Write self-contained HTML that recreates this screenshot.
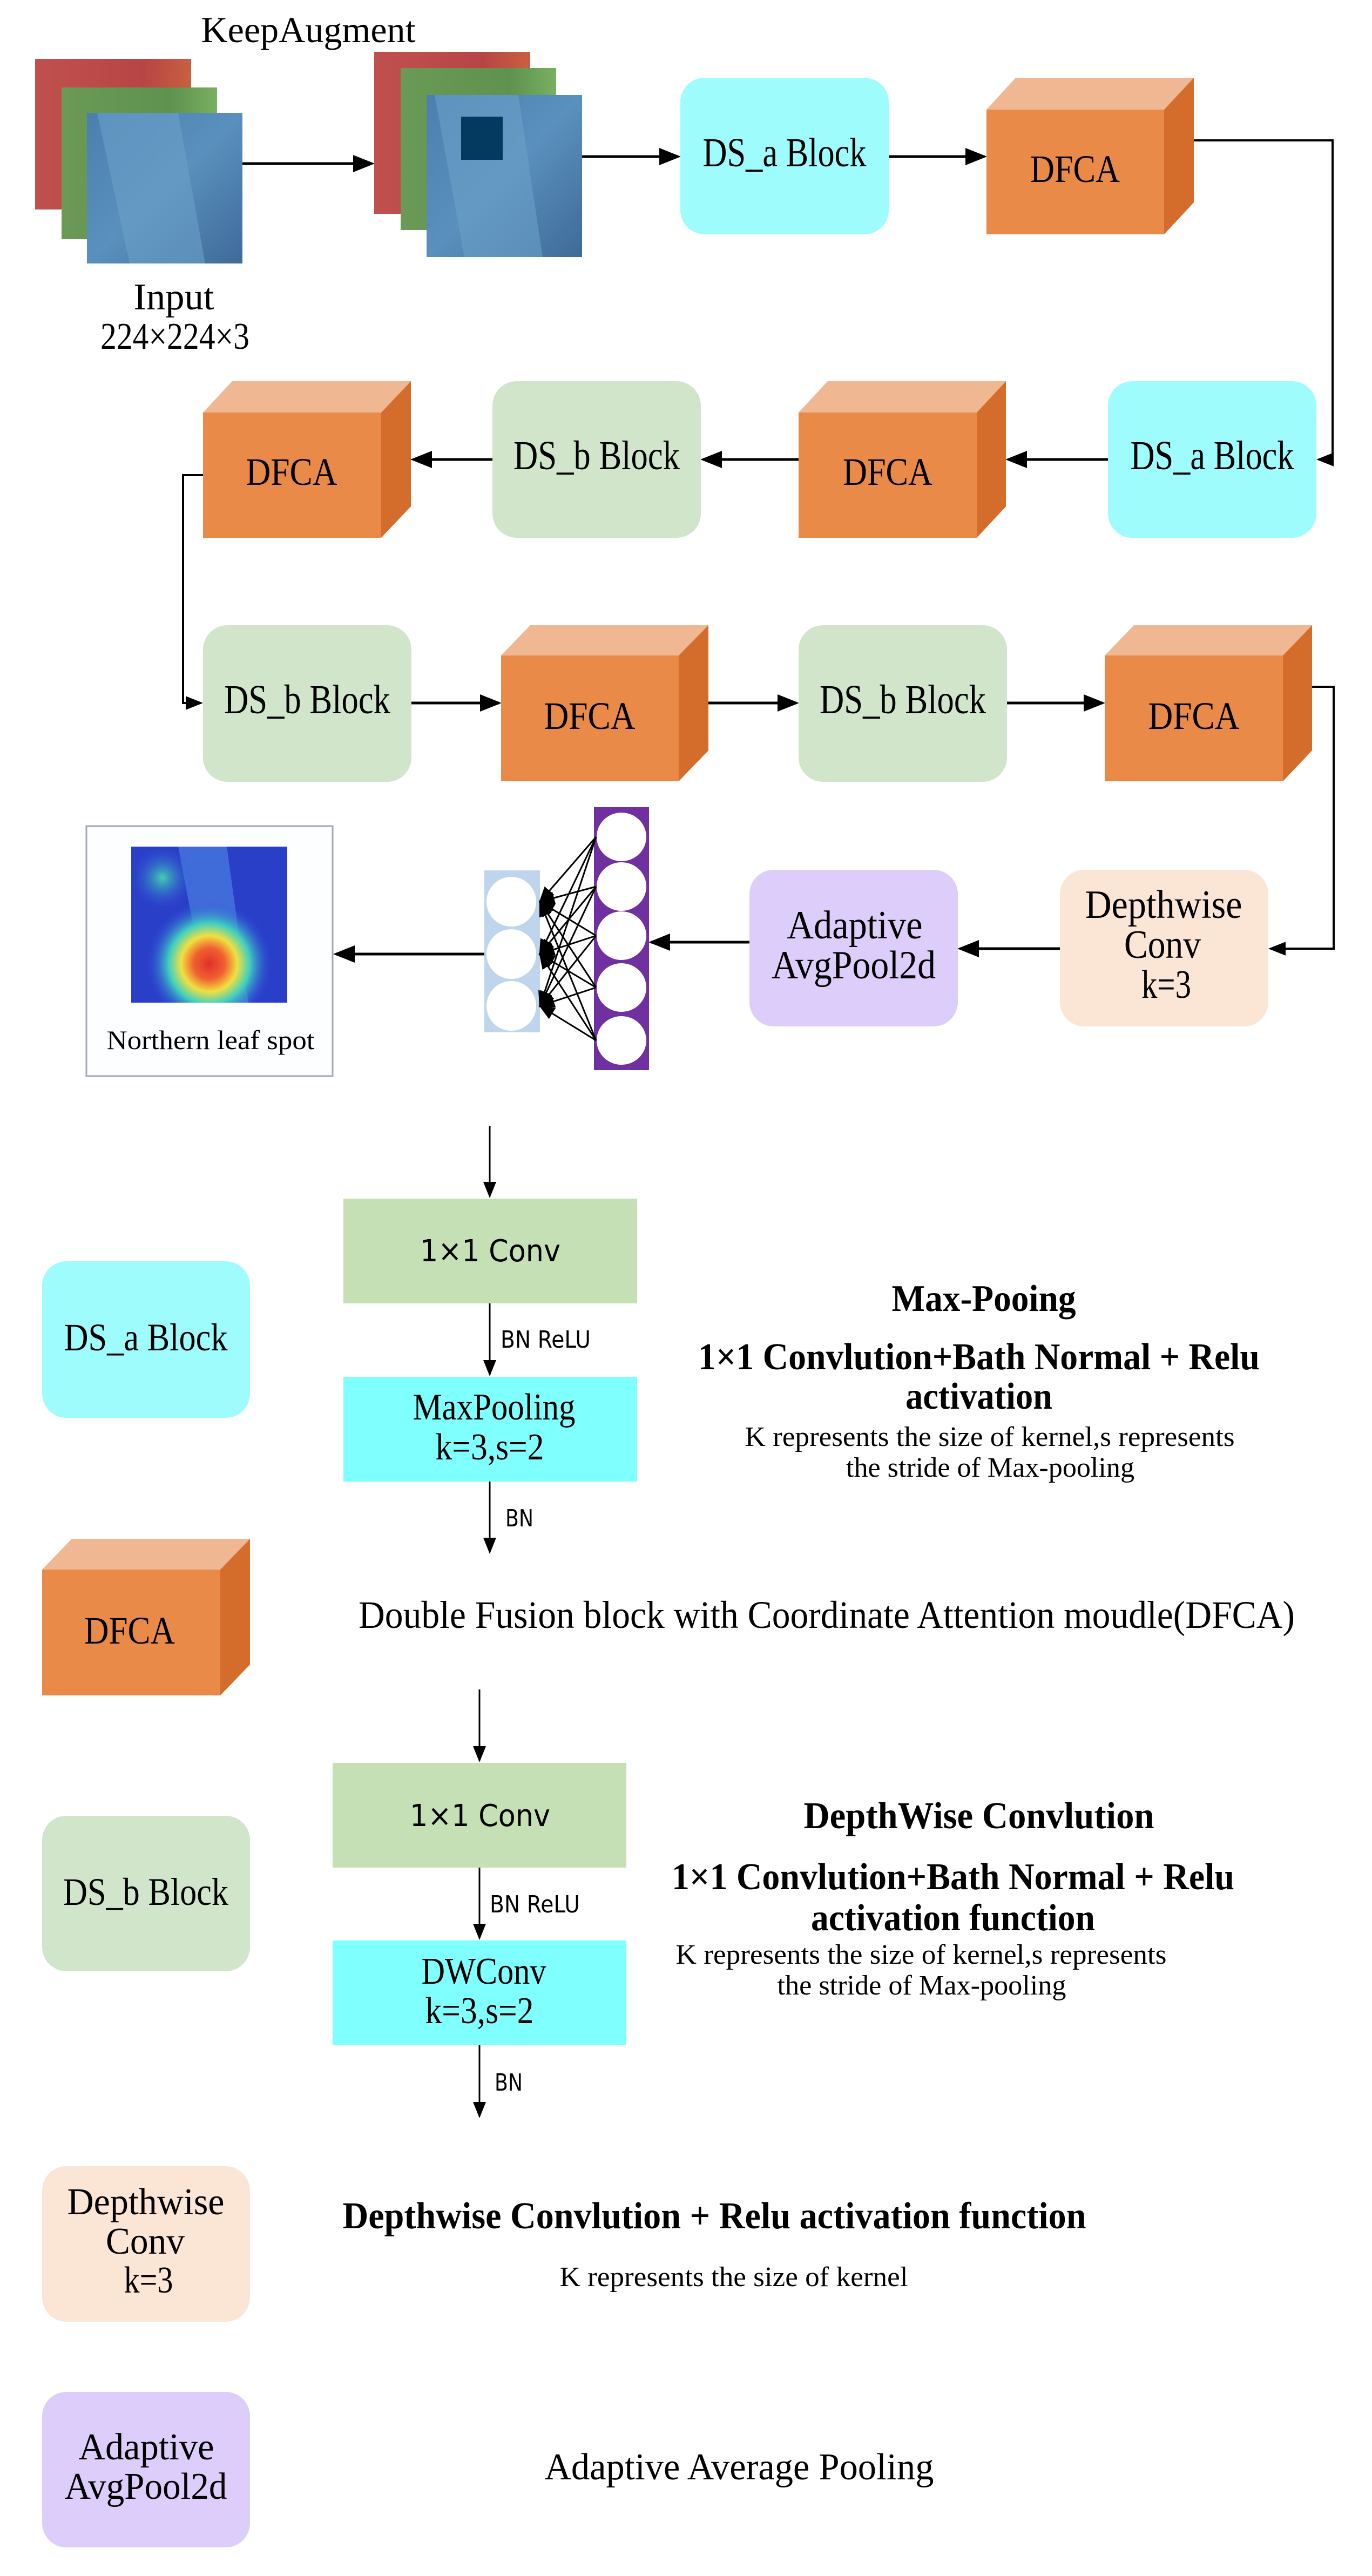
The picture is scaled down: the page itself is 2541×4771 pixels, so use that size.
<!DOCTYPE html>
<html><head><meta charset="utf-8"><style>html,body{margin:0;padding:0;background:#fff}svg{display:block}</style></head>
<body>
<svg width="2541" height="4771" viewBox="0 0 2541 4771" xmlns="http://www.w3.org/2000/svg">
<defs>
<marker id="ah" markerWidth="8" markerHeight="8" refX="7" refY="4" orient="auto" markerUnits="strokeWidth"><path d="M0,0.8 L8,4 L0,7.2 z" fill="#000"/></marker>
<marker id="ah2" markerWidth="10" markerHeight="10" refX="9" refY="5" orient="auto" markerUnits="strokeWidth"><path d="M0,1 L10,5 L0,9 z" fill="#000"/></marker>
<linearGradient id="gR" x1="0" y1="0" x2="1" y2="0"><stop offset="0" stop-color="#c0504d"/><stop offset="0.7" stop-color="#b84545"/><stop offset="1" stop-color="#c8603f"/></linearGradient>
<linearGradient id="gG" x1="0" y1="0" x2="1" y2="0"><stop offset="0" stop-color="#6a9a55"/><stop offset="0.7" stop-color="#5f9150"/><stop offset="1" stop-color="#78b060"/></linearGradient>
<linearGradient id="gB" x1="0" y1="0" x2="1" y2="1"><stop offset="0" stop-color="#4a7fb0"/><stop offset="0.5" stop-color="#5a90bd"/><stop offset="1" stop-color="#3f6a98"/></linearGradient>
<radialGradient id="heat" cx="0.5" cy="0.75" r="0.4"><stop offset="0" stop-color="#e0302a"/><stop offset="0.25" stop-color="#f06030"/><stop offset="0.45" stop-color="#f0e040"/><stop offset="0.65" stop-color="#40d0c0"/><stop offset="1" stop-color="#3050e0" stop-opacity="0"/></radialGradient>
<radialGradient id="heat2" cx="0.2" cy="0.2" r="0.2"><stop offset="0" stop-color="#40d0b0"/><stop offset="1" stop-color="#3050e0" stop-opacity="0"/></radialGradient>
</defs>
<g font-family="Liberation Serif, serif" fill="#000">

<text x="571" y="78" font-size="68" text-anchor="middle" textLength="397" lengthAdjust="spacingAndGlyphs">KeepAugment</text>
<rect x="65" y="109" width="289" height="279" fill="url(#gR)"/>
<rect x="114" y="162" width="288" height="281" fill="url(#gG)"/>
<rect x="161" y="209" width="288" height="279" fill="url(#gB)"/>
<polygon points="180,209 330,209 380,488 240,488" fill="#6aa0c8" opacity="0.6"/>
<text x="322" y="573" font-size="70" text-anchor="middle" textLength="149" lengthAdjust="spacingAndGlyphs">Input</text>
<text x="324" y="646" font-size="70" text-anchor="middle" textLength="276" lengthAdjust="spacingAndGlyphs">224×224×3</text>
<line x1="449" y1="303" x2="689" y2="303" stroke="#000" stroke-width="5" marker-end="url(#ah)"/>
<rect x="693" y="96" width="289" height="300" fill="url(#gR)"/>
<rect x="742" y="126" width="288" height="300" fill="url(#gG)"/>
<rect x="790" y="176" width="288" height="300" fill="url(#gB)"/>
<polygon points="805,176 960,176 1005,476 860,476" fill="#6aa0c8" opacity="0.6"/>
<rect x="854" y="216" width="77" height="80" fill="#043a60"/>
<line x1="1078" y1="290" x2="1256" y2="290" stroke="#000" stroke-width="5" marker-end="url(#ah)"/>

<rect x="1260" y="144" width="386" height="290" rx="45" fill="#9ffcfc"/>
<text x="1453" y="308" font-size="76" text-anchor="middle" textLength="303" lengthAdjust="spacingAndGlyphs">DS_a Block</text>
<line x1="1646" y1="290" x2="1823" y2="290" stroke="#000" stroke-width="5" marker-end="url(#ah)"/>
<polygon points="1827,203 1881,144 2211,144 2156,203" fill="#efb893"/>
<polygon points="2156,203 2211,144 2211,375 2156,434" fill="#d46c2c"/>
<rect x="1827" y="203" width="329" height="231" fill="#ea8a48"/>
<text x="1991" y="337" font-size="72" text-anchor="middle" textLength="166" lengthAdjust="spacingAndGlyphs">DFCA</text>
<polyline points="2211,260 2468,260 2468,851 2442,851" fill="none" stroke="#000" stroke-width="4" marker-end="url(#ah)"/>

<rect x="2052" y="706" width="386" height="290" rx="45" fill="#9ffcfc"/>
<text x="2245" y="869" font-size="76" text-anchor="middle" textLength="303" lengthAdjust="spacingAndGlyphs">DS_a Block</text>
<line x1="2052" y1="851" x2="1867" y2="851" stroke="#000" stroke-width="5" marker-end="url(#ah)"/>
<polygon points="1479,764 1533,706 1863,706 1809,764" fill="#efb893"/>
<polygon points="1809,764 1863,706 1863,938 1809,996" fill="#d46c2c"/>
<rect x="1479" y="764" width="330" height="232" fill="#ea8a48"/>
<text x="1644" y="898" font-size="72" text-anchor="middle" textLength="166" lengthAdjust="spacingAndGlyphs">DFCA</text>
<line x1="1479" y1="851" x2="1302" y2="851" stroke="#000" stroke-width="5" marker-end="url(#ah)"/>
<rect x="912" y="706" width="386" height="290" rx="45" fill="#d1e5cb"/>
<text x="1105" y="869" font-size="76" text-anchor="middle" textLength="308" lengthAdjust="spacingAndGlyphs">DS_b Block</text>
<line x1="912" y1="851" x2="765" y2="851" stroke="#000" stroke-width="5" marker-end="url(#ah)"/>
<polygon points="376,764 430,706 761,706 706,764" fill="#efb893"/>
<polygon points="706,764 761,706 761,938 706,996" fill="#d46c2c"/>
<rect x="376" y="764" width="330" height="232" fill="#ea8a48"/>
<text x="540" y="898" font-size="72" text-anchor="middle" textLength="169" lengthAdjust="spacingAndGlyphs">DFCA</text>
<polyline points="376,880 339,880 339,1302 372,1302" fill="none" stroke="#000" stroke-width="4" marker-end="url(#ah)"/>

<rect x="376" y="1158" width="386" height="290" rx="45" fill="#d1e5cb"/>
<text x="569" y="1321" font-size="76" text-anchor="middle" textLength="308" lengthAdjust="spacingAndGlyphs">DS_b Block</text>
<line x1="762" y1="1302" x2="924" y2="1302" stroke="#000" stroke-width="5" marker-end="url(#ah)"/>
<polygon points="928,1214 982,1158 1312,1158 1257,1214" fill="#efb893"/>
<polygon points="1257,1214 1312,1158 1312,1390 1257,1447" fill="#d46c2c"/>
<rect x="928" y="1214" width="329" height="233" fill="#ea8a48"/>
<text x="1092" y="1350" font-size="72" text-anchor="middle" textLength="169" lengthAdjust="spacingAndGlyphs">DFCA</text>
<line x1="1312" y1="1302" x2="1475" y2="1302" stroke="#000" stroke-width="5" marker-end="url(#ah)"/>
<rect x="1479" y="1158" width="386" height="290" rx="45" fill="#d1e5cb"/>
<text x="1672" y="1321" font-size="76" text-anchor="middle" textLength="308" lengthAdjust="spacingAndGlyphs">DS_b Block</text>
<line x1="1865" y1="1302" x2="2042" y2="1302" stroke="#000" stroke-width="5" marker-end="url(#ah)"/>
<polygon points="2046,1214 2100,1158 2430,1158 2376,1214" fill="#efb893"/>
<polygon points="2376,1214 2430,1158 2430,1390 2376,1447" fill="#d46c2c"/>
<rect x="2046" y="1214" width="330" height="233" fill="#ea8a48"/>
<text x="2211" y="1350" font-size="72" text-anchor="middle" textLength="169" lengthAdjust="spacingAndGlyphs">DFCA</text>
<polyline points="2430,1272 2470,1272 2470,1757 2353,1757" fill="none" stroke="#000" stroke-width="4" marker-end="url(#ah)"/>

<rect x="1963" y="1611" width="386" height="290" rx="45" fill="#fbe5d5"/>
<text x="2155" y="1700" font-size="74" text-anchor="middle" textLength="291" lengthAdjust="spacingAndGlyphs">Depthwise</text>
<text x="2153" y="1774" font-size="74" text-anchor="middle" textLength="142" lengthAdjust="spacingAndGlyphs">Conv</text>
<text x="2160" y="1848" font-size="74" text-anchor="middle" textLength="92" lengthAdjust="spacingAndGlyphs">k=3</text>
<line x1="1963" y1="1757" x2="1778" y2="1757" stroke="#000" stroke-width="5" marker-end="url(#ah)"/>
<rect x="1388" y="1611" width="386" height="290" rx="45" fill="#dccdfb"/>
<text x="1583" y="1738" font-size="74" text-anchor="middle" textLength="251" lengthAdjust="spacingAndGlyphs">Adaptive</text>
<text x="1581" y="1812" font-size="74" text-anchor="middle" textLength="304" lengthAdjust="spacingAndGlyphs">AvgPool2d</text>
<line x1="1388" y1="1745" x2="1206" y2="1745" stroke="#000" stroke-width="5" marker-end="url(#ah)"/>

<rect x="1100" y="1495" width="102" height="487" fill="#7030a0"/>
<g fill="#fff">
<ellipse cx="1151" cy="1550" rx="46" ry="45"/><ellipse cx="1151" cy="1642" rx="46" ry="45"/><ellipse cx="1151" cy="1733" rx="46" ry="45"/><ellipse cx="1151" cy="1829" rx="46" ry="45"/><ellipse cx="1151" cy="1927" rx="46" ry="45"/>
</g>
<rect x="897" y="1612" width="103" height="300" fill="#bfd5ee"/>
<g fill="#fff"><ellipse cx="947" cy="1670" rx="46" ry="46"/><ellipse cx="947" cy="1767" rx="46" ry="46"/><ellipse cx="947" cy="1863" rx="46" ry="46"/></g>
<g stroke="#000" stroke-width="3" marker-end="url(#ah2)">
<line x1="1104" y1="1550" x2="1000" y2="1670"/><line x1="1104" y1="1642" x2="1000" y2="1670"/><line x1="1104" y1="1733" x2="1000" y2="1670"/><line x1="1104" y1="1829" x2="1000" y2="1670"/><line x1="1104" y1="1927" x2="1000" y2="1670"/>
<line x1="1104" y1="1550" x2="1000" y2="1767"/><line x1="1104" y1="1642" x2="1000" y2="1767"/><line x1="1104" y1="1733" x2="1000" y2="1767"/><line x1="1104" y1="1829" x2="1000" y2="1767"/><line x1="1104" y1="1927" x2="1000" y2="1767"/>
<line x1="1104" y1="1550" x2="1000" y2="1863"/><line x1="1104" y1="1642" x2="1000" y2="1863"/><line x1="1104" y1="1733" x2="1000" y2="1863"/><line x1="1104" y1="1829" x2="1000" y2="1863"/><line x1="1104" y1="1927" x2="1000" y2="1863"/>
</g>
<line x1="897" y1="1767" x2="622" y2="1767" stroke="#000" stroke-width="5" marker-end="url(#ah)"/>

<rect x="160" y="1530" width="456" height="463" fill="#fdfeff" stroke="#a0a8b0" stroke-width="3"/>
<rect x="243" y="1568" width="289" height="289" fill="#2a3fc8"/>
<polygon points="330,1568 420,1568 460,1857 385,1857" fill="#4a80e0" opacity="0.7"/>
<rect x="243" y="1568" width="289" height="289" fill="url(#heat2)"/>
<rect x="243" y="1568" width="289" height="289" fill="url(#heat)"/>
<text x="390" y="1943" font-size="50" text-anchor="middle" textLength="385" lengthAdjust="spacingAndGlyphs">Northern leaf spot</text>

<line x1="907" y1="2085" x2="907" y2="2216" stroke="#000" stroke-width="3" marker-end="url(#ah2)"/>
<rect x="636" y="2220" width="544" height="194" fill="#c5e0b4"/>
<text x="908" y="2336" font-family="DejaVu Sans, Liberation Sans, sans-serif" font-size="56" text-anchor="middle" textLength="260" lengthAdjust="spacingAndGlyphs">1×1 Conv</text>
<line x1="907" y1="2414" x2="907" y2="2546" stroke="#000" stroke-width="3" marker-end="url(#ah2)"/>
<text x="927" y="2496" font-family="DejaVu Sans, Liberation Sans, sans-serif" font-size="44" textLength="167" lengthAdjust="spacingAndGlyphs">BN ReLU</text>
<rect x="636" y="2550" width="544" height="194" fill="#80ffff"/>
<text x="915" y="2629" font-size="70" text-anchor="middle" textLength="301" lengthAdjust="spacingAndGlyphs">MaxPooling</text>
<text x="907" y="2703" font-size="70" text-anchor="middle" textLength="201" lengthAdjust="spacingAndGlyphs">k=3,s=2</text>
<line x1="907" y1="2744" x2="907" y2="2875" stroke="#000" stroke-width="3" marker-end="url(#ah2)"/>
<text x="936" y="2827" font-family="DejaVu Sans, Liberation Sans, sans-serif" font-size="44" textLength="52" lengthAdjust="spacingAndGlyphs">BN</text>
<rect x="78" y="2336" width="385" height="290" rx="45" fill="#9ffcfc"/>
<text x="270" y="2501" font-size="72" text-anchor="middle" textLength="303" lengthAdjust="spacingAndGlyphs">DS_a Block</text>
<text x="1822" y="2428" font-size="70" font-weight="bold" text-anchor="middle" textLength="341" lengthAdjust="spacingAndGlyphs">Max-Pooing</text>
<text x="1813" y="2536" font-size="70" font-weight="bold" text-anchor="middle" textLength="1040" lengthAdjust="spacingAndGlyphs">1×1 Convlution+Bath Normal + Relu</text>
<text x="1813" y="2609" font-size="70" font-weight="bold" text-anchor="middle" textLength="272" lengthAdjust="spacingAndGlyphs">activation</text>
<text x="1833" y="2678" font-size="52" text-anchor="middle" textLength="907" lengthAdjust="spacingAndGlyphs">K represents the size of  kernel,s represents</text>
<text x="1834" y="2735" font-size="52" text-anchor="middle" textLength="534" lengthAdjust="spacingAndGlyphs">the stride of Max-pooling</text>

<polygon points="78,2907 133,2850 463,2850 408,2907" fill="#efb893"/>
<polygon points="408,2907 463,2850 463,3083 408,3140" fill="#d46c2c"/>
<rect x="78" y="2907" width="330" height="233" fill="#ea8a48"/>
<text x="240" y="3044" font-size="72" text-anchor="middle" textLength="168" lengthAdjust="spacingAndGlyphs">DFCA</text>
<text x="1531" y="3015" font-size="72" text-anchor="middle" textLength="1734" lengthAdjust="spacingAndGlyphs">Double Fusion block with Coordinate Attention moudle(DFCA)</text>

<line x1="888" y1="3129" x2="888" y2="3261" stroke="#000" stroke-width="3" marker-end="url(#ah2)"/>
<rect x="616" y="3265" width="544" height="194" fill="#c5e0b4"/>
<text x="889" y="3382" font-family="DejaVu Sans, Liberation Sans, sans-serif" font-size="56" text-anchor="middle" textLength="260" lengthAdjust="spacingAndGlyphs">1×1 Conv</text>
<line x1="888" y1="3459" x2="888" y2="3590" stroke="#000" stroke-width="3" marker-end="url(#ah2)"/>
<text x="907" y="3542" font-family="DejaVu Sans, Liberation Sans, sans-serif" font-size="44" textLength="167" lengthAdjust="spacingAndGlyphs">BN ReLU</text>
<rect x="616" y="3594" width="544" height="194" fill="#80ffff"/>
<text x="896" y="3674" font-size="70" text-anchor="middle" textLength="231" lengthAdjust="spacingAndGlyphs">DWConv</text>
<text x="888" y="3747" font-size="70" text-anchor="middle" textLength="201" lengthAdjust="spacingAndGlyphs">k=3,s=2</text>
<line x1="888" y1="3788" x2="888" y2="3920" stroke="#000" stroke-width="3" marker-end="url(#ah2)"/>
<text x="916" y="3872" font-family="DejaVu Sans, Liberation Sans, sans-serif" font-size="44" textLength="52" lengthAdjust="spacingAndGlyphs">BN</text>
<rect x="78" y="3363" width="385" height="288" rx="45" fill="#d1e5cb"/>
<text x="270" y="3528" font-size="72" text-anchor="middle" textLength="306" lengthAdjust="spacingAndGlyphs">DS_b Block</text>
<text x="1813" y="3386" font-size="70" font-weight="bold" text-anchor="middle" textLength="649" lengthAdjust="spacingAndGlyphs">DepthWise Convlution</text>
<text x="1765" y="3499" font-size="70" font-weight="bold" text-anchor="middle" textLength="1042" lengthAdjust="spacingAndGlyphs">1×1 Convlution+Bath Normal + Relu</text>
<text x="1765" y="3575" font-size="70" font-weight="bold" text-anchor="middle" textLength="526" lengthAdjust="spacingAndGlyphs">activation function</text>
<text x="1706" y="3637" font-size="52" text-anchor="middle" textLength="909" lengthAdjust="spacingAndGlyphs">K represents the size of  kernel,s represents</text>
<text x="1707" y="3694" font-size="52" text-anchor="middle" textLength="535" lengthAdjust="spacingAndGlyphs">the stride of Max-pooling</text>

<rect x="78" y="4012" width="385" height="288" rx="45" fill="#fbe5d5"/>
<text x="270" y="4101" font-size="70" text-anchor="middle" textLength="291" lengthAdjust="spacingAndGlyphs">Depthwise</text>
<text x="269" y="4174" font-size="70" text-anchor="middle" textLength="146" lengthAdjust="spacingAndGlyphs">Conv</text>
<text x="275" y="4246" font-size="70" text-anchor="middle" textLength="91" lengthAdjust="spacingAndGlyphs">k=3</text>
<text x="1323" y="4127" font-size="70" font-weight="bold" text-anchor="middle" textLength="1377" lengthAdjust="spacingAndGlyphs">Depthwise Convlution + Relu activation function</text>
<text x="1359" y="4234" font-size="52" text-anchor="middle" textLength="645" lengthAdjust="spacingAndGlyphs">K represents the size of  kernel</text>

<rect x="78" y="4430" width="385" height="288" rx="45" fill="#dccdfb"/>
<text x="271" y="4555" font-size="70" text-anchor="middle" textLength="251" lengthAdjust="spacingAndGlyphs">Adaptive</text>
<text x="270" y="4628" font-size="70" text-anchor="middle" textLength="301" lengthAdjust="spacingAndGlyphs">AvgPool2d</text>
<text x="1369" y="4592" font-size="70" text-anchor="middle" textLength="721" lengthAdjust="spacingAndGlyphs">Adaptive Average Pooling</text>
</g>
</svg>
</body></html>
